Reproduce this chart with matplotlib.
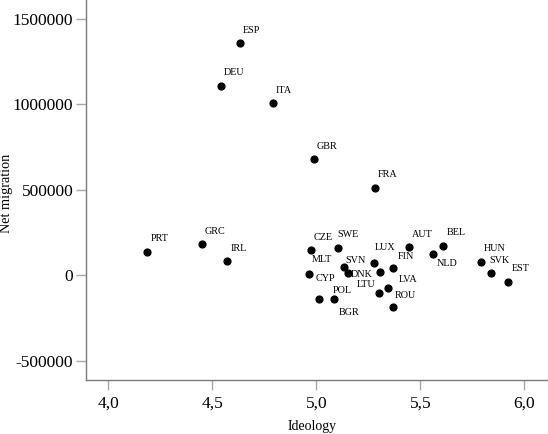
# plot.py
# net migration vs ideology scatter, one labelled dot per country

import matplotlib.pyplot as plt
from matplotlib.ticker import FuncFormatter

countries = ['ESP', 'DEU', 'ITA', 'GBR', 'FRA', 'PRT', 'GRC', 'IRL',
             'CZE', 'SWE', 'AUT', 'BEL', 'NLD', 'HUN', 'SVK', 'EST',
             'LUX', 'SVN', 'DNK', 'CYP', 'MLT', 'FIN', 'LVA', 'LTU',
             'ROU', 'POL', 'BGR']
ideology = [4.635, 4.542, 4.793, 4.989, 5.284, 4.188, 4.449, 4.572,
            4.975, 5.103, 5.446, 5.608, 5.560, 5.790, 5.838, 5.920,
            5.279, 5.135, 5.151, 5.306, 4.965, 5.370, 5.343, 5.301,
            5.370, 5.014, 5.087]
net_migration = [1358000, 1108600, 1007600, 680500, 512800, 139000, 182200, 84700,
                 149000, 163500, 164700, 174100, 123800, 80600, 12900, -36200,
                 71300, 51400, 12900, 22200, 8800, 42100, -71300, -104000,
                 -182200, -139000, -139000]

# label offsets in points (layout only)
label_offsets = {
    'ESP': (2, 6), 'DEU': (2, 6), 'ITA': (2, 6), 'GBR': (2, 6), 'FRA': (2, 6),
    'PRT': (2, 6), 'GRC': (2, 6), 'IRL': (2, 6),
    'CZE': (2, 6), 'SWE': (0, 6), 'AUT': (2, 6), 'BEL': (3, 6), 'NLD': (3, -10),
    'HUN': (2, 6), 'SVK': (-1, 6), 'EST': (3, 6), 'LUX': (0, 8),
    'SVN': (1, 1), 'DNK': (2, -4), 'CYP': (-46, -8), 'MLT': (2, 7),
    'FIN': (3, 5), 'LVA': (8, 3), 'LTU': (-16, 3), 'ROU': (1, 5),
    'POL': (10, 3), 'BGR': (3, -13),
}

fig = plt.figure(figsize=(5.48, 4.34), dpi=100)
ax = fig.add_axes([0.1564, 0.1233, 0.8436, 0.8767])

ax.scatter(ideology, net_migration, s=24, color='black', zorder=3)
for c, xv, yv in zip(countries, ideology, net_migration):
    ax.annotate(c, (xv, yv), xytext=label_offsets[c], textcoords='offset points',
                fontsize=7.3, family='Liberation Serif', va='bottom', ha='left')

ax.set_xlim(3.891, 6.114)
ax.set_ylim(-613300, 1609200)
ax.set_xticks([4.0, 4.5, 5.0, 5.5, 6.0])
ax.set_yticks([-500000, 0, 500000, 1000000, 1500000])
ax.xaxis.set_major_formatter(FuncFormatter(lambda v, p: ('%.1f' % v).replace('.', ',')))
ax.yaxis.set_major_formatter(FuncFormatter(lambda v, p: '%d' % v))

for s in ['top', 'right']:
    ax.spines[s].set_visible(False)
for s in ['left', 'bottom']:
    ax.spines[s].set_color('#7a7a7a')
    ax.spines[s].set_linewidth(1.0)
ax.tick_params(length=7, width=1, color='#a8a8a8', labelsize=12.5)
ax.tick_params(axis='x', pad=4)
ax.tick_params(axis='y', pad=2)
for lab in ax.get_xticklabels() + ax.get_yticklabels():
    lab.set_family('Liberation Serif')

ax.set_xlabel('Ideology', fontsize=10, family='Liberation Serif')
ax.set_ylabel('Net migration', fontsize=10.3, family='Liberation Serif')
ax.xaxis.set_label_coords(0.49, -0.104)
ax.yaxis.set_label_coords(-0.157, 0.493)

plt.savefig('out.png', dpi=100)
